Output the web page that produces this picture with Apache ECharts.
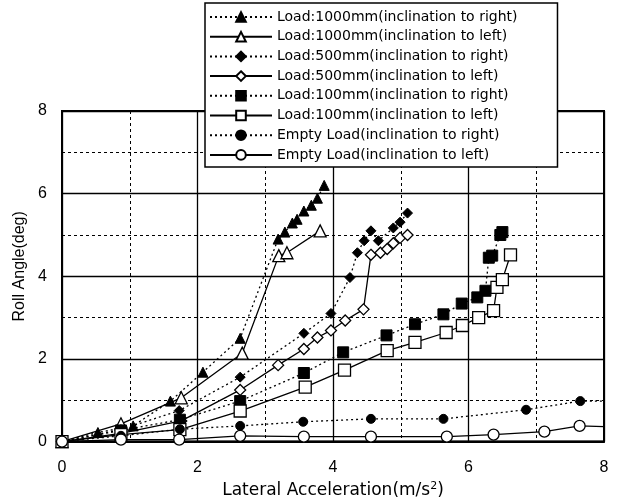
<!DOCTYPE html>
<html><head><meta charset="utf-8">
<script src="https://cdn.jsdelivr.net/npm/echarts@6/dist/echarts.min.js"></script>
<style>html,body{margin:0;padding:0;background:#fff}#c{width:617px;height:504px}</style>
</head><body><div id="c"></div>
<script>
// ---- data ----
const seriesNames = [
  'Load:1000mm(inclination to right)',
  'Load:1000mm(inclination to left)',
  'Load:500mm(inclination to right)',
  'Load:500mm(inclination to left)',
  'Load:100mm(inclination to right)',
  'Load:100mm(inclination to left)',
  'Empty Load(inclination to right)',
  'Empty Load(inclination to left)'
];
const xTicks = [0, 2, 4, 6, 8];
const yTicks = [0, 2, 4, 6, 8];

const load1000R_x = [0, 0.53, 1.05, 1.6, 2.08, 2.63, 3.19, 3.29, 3.4, 3.47, 3.57, 3.68, 3.77, 3.87];
const load1000R_y = [0, 0.22, 0.38, 0.98, 1.68, 2.5, 4.9, 5.07, 5.29, 5.38, 5.58, 5.72, 5.89, 6.2];
const load1000L_x = [0, 0.87, 1.76, 2.66, 3.2, 3.32, 3.81];
const load1000L_y = [0, 0.43, 1.06, 2.14, 4.5, 4.57, 5.1];
const load500R_x = [0, 0.87, 1.73, 2.63, 3.57, 3.97, 4.25, 4.36, 4.46, 4.56, 4.67, 4.89, 4.99, 5.1];
const load500R_y = [0, 0.29, 0.75, 1.56, 2.62, 3.1, 3.97, 4.57, 4.86, 5.1, 4.86, 5.17, 5.31, 5.53];
const load500L_x = [0, 0.87, 1.76, 2.63, 3.19, 3.57, 3.77, 3.97, 4.18, 4.45, 4.56, 4.7, 4.8, 4.89, 4.99, 5.1];
const load500L_y = [0, 0.2, 0.5, 1.25, 1.85, 2.24, 2.52, 2.69, 2.93, 3.2, 4.52, 4.57, 4.66, 4.8, 4.93, 5.0];
const load100R_x = [0, 0.87, 1.74, 2.63, 3.57, 4.15, 4.79, 5.21, 5.63, 5.9, 6.13, 6.25, 6.3, 6.35, 6.47, 6.5];
const load100R_y = [0, 0.27, 0.53, 0.98, 1.66, 2.16, 2.57, 2.84, 3.08, 3.34, 3.49, 3.65, 4.45, 4.5, 5.0, 5.07];
const load100L_x = [0, 0.87, 1.74, 2.63, 3.59, 4.17, 4.8, 5.21, 5.67, 5.91, 6.15, 6.37, 6.42, 6.5, 6.62];
const load100L_y = [0, 0.17, 0.29, 0.74, 1.32, 1.73, 2.2, 2.4, 2.64, 2.81, 3.0, 3.17, 3.73, 3.92, 4.52];
const emptyR_x = [0, 0.87, 1.74, 2.63, 3.56, 4.56, 5.63, 6.85, 7.65, 8.0];
const emptyR_y = [0, 0.14, 0.3, 0.38, 0.48, 0.55, 0.55, 0.77, 0.98, 0.98];
const emptyL_x = [0, 0.87, 1.73, 2.63, 3.57, 4.56, 5.68, 6.37, 7.12, 7.64, 8.0];
const emptyL_y = [0, 0.05, 0.05, 0.14, 0.12, 0.12, 0.12, 0.17, 0.24, 0.38, 0.36];

// ---- styles ----
const allX = [load1000R_x, load1000L_x, load500R_x, load500L_x, load100R_x, load100L_x, emptyR_x, emptyL_x];
const allY = [load1000R_y, load1000L_y, load500R_y, load500L_y, load100R_y, load100L_y, emptyR_y, emptyL_y];
const symbols = ['triangle','triangle','diamond','diamond','rect','rect','circle','circle'];
const sizes = [10, 12, 10, 11, 11, 12, 9, 11];
const filled = [true,false,true,false,true,false,true,false];

const series = seriesNames.map((name, i) => ({
  name, type: 'line',
  data: allX[i].map((x, k) => {
    const item = { value: [x, allY[i][k]] };
    if (x >= 8) item.symbol = 'none';
    return item;
  }),
  symbol: symbols[i], symbolSize: sizes[i], showAllSymbol: true,
  lineStyle: filled[i] ? { color: '#000', width: 1.3, type: [2, 3] } : { color: '#000', width: 1.3, type: 'solid' },
  itemStyle: filled[i] ? { color: '#000', borderColor: '#000', borderWidth: 1 } : { color: '#fff', borderColor: '#000', borderWidth: 1.3 },
  z: 3 + i, animation: false, clip: true
}));

const chart = echarts.init(document.getElementById('c'), null, { renderer: 'canvas' });
const fam = '"Liberation Sans", Arial, sans-serif';
const wide = '"DejaVu Sans", sans-serif';
chart.setOption({
  backgroundColor: '#fff',
  animation: false,
  textStyle: { fontFamily: fam, color: '#000' },
  grid: { left: 62, right: 13, top: 111, bottom: 60, show: true, borderColor: '#000', borderWidth: 2, backgroundColor: 'transparent' },
  legend: {
    orient: 'vertical', left: 205, top: 3,
    backgroundColor: '#fff', borderColor: '#000', borderWidth: 1.5,
    padding: [7, 40, 5, 4], itemGap: 5.7, itemWidth: 62, itemHeight: 12, itemTextGap: 8,
    textStyle: { fontFamily: wide, fontSize: 14, color: '#000' },
    data: seriesNames, z: 20
  },
  xAxis: {
    type: 'value', min: 0, max: 8, interval: 2,
    axisLine: { show: true, lineStyle: { color: '#000', width: 2 } },
    axisTick: { show: false },
    axisLabel: { color: '#000', fontSize: 16, margin: 18, fontFamily: fam,
      formatter: v => xTicks.includes(v) ? String(v) : '' },
    splitLine: { show: true, lineStyle: { color: '#000', width: 1.3 } },
    minorTick: { show: false, splitNumber: 2 },
    minorSplitLine: { show: true, lineStyle: { color: '#000', width: 1, type: [3, 3] } },
    name: '{a|Lateral Acceleration(m/s}{s|2}{a|)}', nameLocation: 'middle', nameGap: 36,
    nameTextStyle: { rich: { a: { fontSize: 17, fontFamily: wide, color: '#000' }, s: { fontSize: 11, fontFamily: wide, color: '#000', padding: [0, 0, 9, 0] } } }
  },
  yAxis: {
    type: 'value', min: 0, max: 8, interval: 2,
    axisLine: { show: true, lineStyle: { color: '#000', width: 2 } },
    axisTick: { show: false },
    axisLabel: { color: '#000', fontSize: 16, margin: 15, fontFamily: fam,
      formatter: v => yTicks.includes(v) ? String(v) : '' },
    splitLine: { show: true, lineStyle: { color: '#000', width: 1.3 } },
    minorTick: { show: false, splitNumber: 2 },
    minorSplitLine: { show: true, lineStyle: { color: '#000', width: 1, type: [3, 3] } },
    name: 'Roll Angle(deg)', nameLocation: 'middle', nameGap: 30,
    nameTextStyle: { fontSize: 16, fontFamily: fam, color: '#000', padding: [0, 0, 0, 20] }
  },
  series
});
</script></body></html>
